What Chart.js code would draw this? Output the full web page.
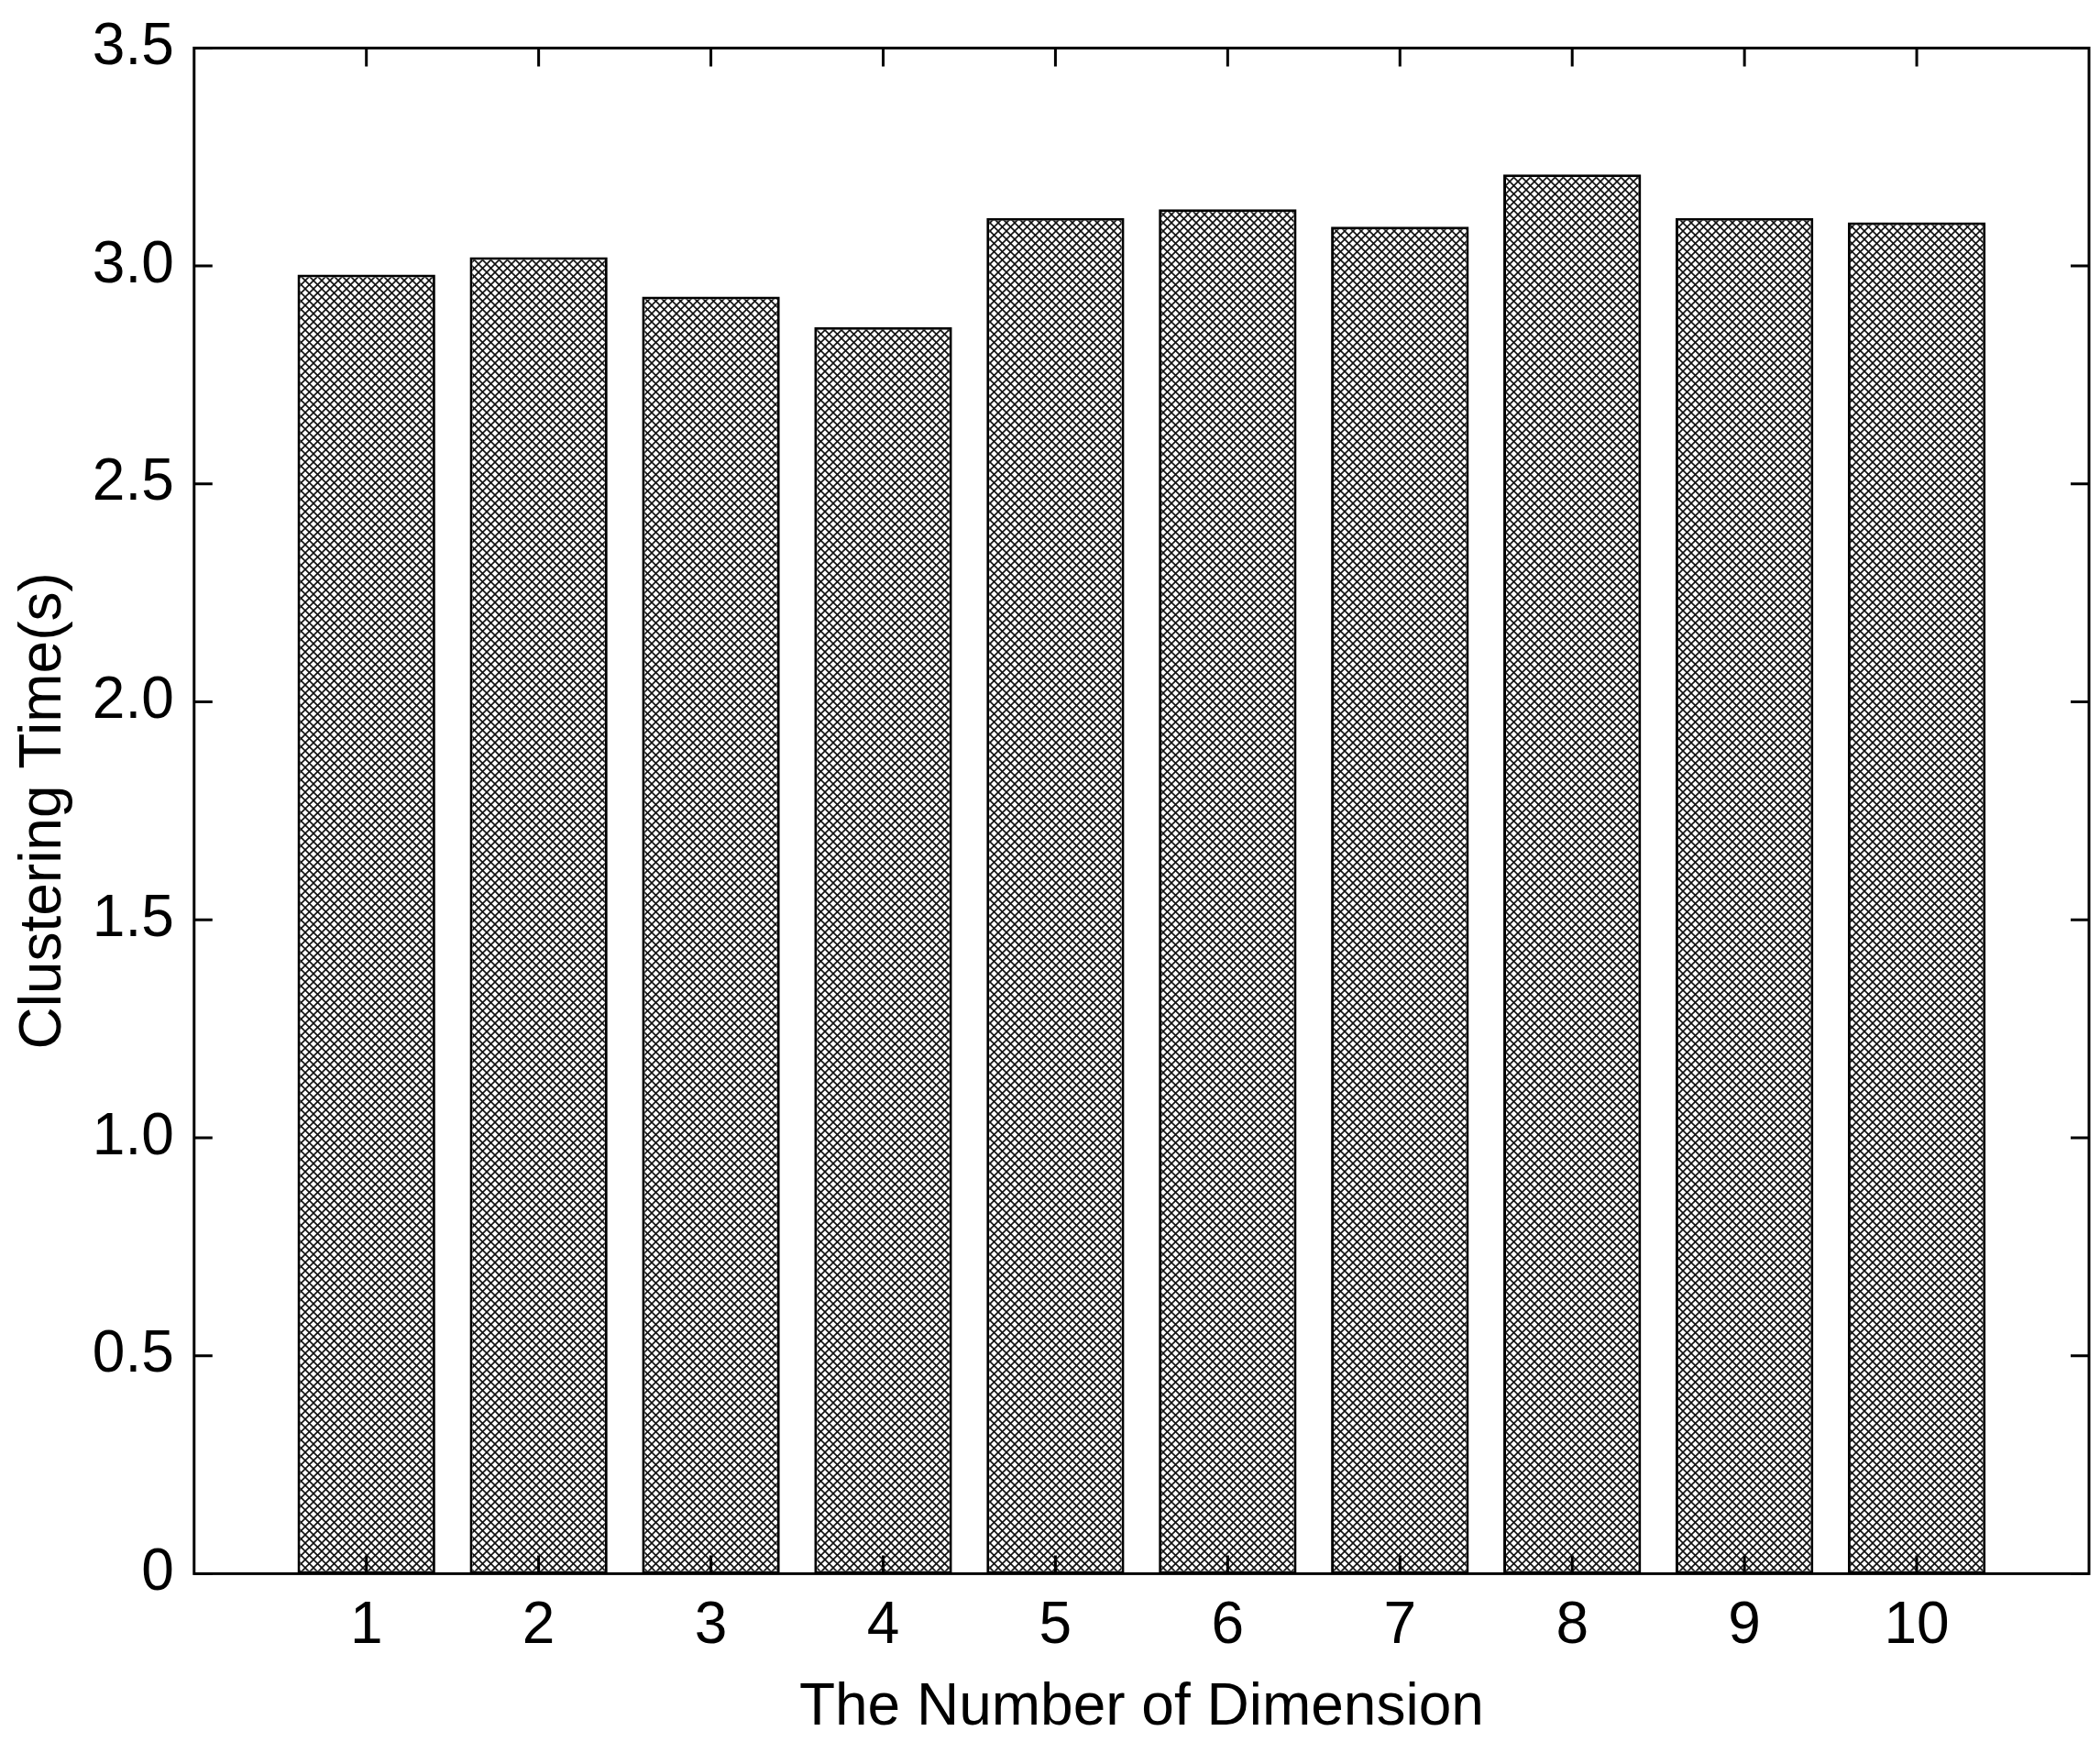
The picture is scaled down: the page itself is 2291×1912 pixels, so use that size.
<!DOCTYPE html>
<html>
<head>
<meta charset="UTF-8">
<script src="https://cdn.jsdelivr.net/npm/chart.js"></script>
<style>
  body { margin: 0; background: #fff; }
  #wrap { width: 2291px; height: 1912px; }
</style>
</head>
<body>
<div id="wrap"><canvas id="grafico"></canvas></div>
<script>
  // Datos
  const dimensiones = ['', '1', '2', '3', '4', '5', '6', '7', '8', '9', '10', ''];
  const tiempos = [null, 2.98, 3.02, 2.93, 2.86, 3.11, 3.13, 3.09, 3.21, 3.11, 3.10, null];
  const ticksY = [0, 0.5, 1, 1.5, 2, 2.5, 3, 3.5];

  // Patrón de rayado cruzado
  const pc = document.createElement('canvas');
  pc.width = 9; pc.height = 9;
  const p = pc.getContext('2d');
  p.fillStyle = '#fff'; p.fillRect(0, 0, 9, 9);
  p.strokeStyle = '#111'; p.lineWidth = 1.6;
  p.beginPath();
  p.moveTo(-1, -1); p.lineTo(10, 10);
  p.moveTo(10, -1); p.lineTo(-1, 10);
  p.stroke();
  const rayado = p.createPattern(pc, 'repeat');

  const fuente = { family: 'Liberation Sans, Arial, sans-serif', size: 64 };

  const marco = {
    id: 'marco',
    afterDraw(chart) {
      const { ctx, chartArea: a, scales } = chart;
      ctx.save();
      ctx.strokeStyle = '#000'; ctx.lineWidth = 3;
      ctx.strokeRect(a.left, a.top, a.right - a.left, a.bottom - a.top);
      ctx.beginPath();
      ticksY.forEach(v => {
        const y = scales.y.getPixelForValue(v);
        ctx.moveTo(a.left, y); ctx.lineTo(a.left + 20, y);
        ctx.moveTo(a.right, y); ctx.lineTo(a.right - 20, y);
      });
      for (let i = 1; i <= 10; i++) {
        const x = scales.x.getPixelForValue(i);
        ctx.moveTo(x, a.bottom); ctx.lineTo(x, a.bottom - 20);
        ctx.moveTo(x, a.top); ctx.lineTo(x, a.top + 20);
      }
      ctx.stroke();
      ctx.restore();
    }
  };

  new Chart(document.getElementById('grafico'), {
    type: 'bar',
    data: {
      labels: dimensiones,
      datasets: [{
        data: tiempos,
        backgroundColor: rayado,
        borderColor: '#000',
        borderWidth: 3,
        borderSkipped: false,
        barPercentage: 0.8,
        categoryPercentage: 1
      }]
    },
    options: {
      responsive: true,
      maintainAspectRatio: false,
      animation: false,
      layout: { padding: { top: 40, right: 12, left: 10, bottom: 10 } },
      plugins: { legend: { display: false }, tooltip: { enabled: false } },
      scales: {
        x: {
          offset: false,
          grid: { display: false },
          border: { display: false },
          ticks: { color: '#000', font: fuente, maxRotation: 0, autoSkip: false, padding: 12 },
          title: { display: true, text: 'The Number of Dimension', color: '#000', font: fuente, padding: 0 }
        },
        y: {
          min: 0, max: 3.5,
          afterBuildTicks: s => { s.ticks = ticksY.map(v => ({ value: v })); },
          grid: { display: false },
          border: { display: false },
          ticks: { color: '#000', font: fuente, padding: 14 },
          title: { display: true, text: 'Clustering Time(s)', color: '#000', font: fuente, padding: 0 }
        }
      }
    },
    plugins: [marco]
  });
</script>
</body>
</html>
